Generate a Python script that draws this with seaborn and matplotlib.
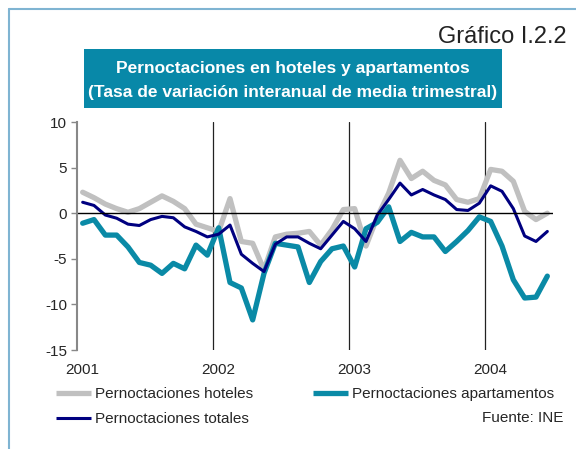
import numpy as np
import pandas as pd
import matplotlib.pyplot as plt
import seaborn as sns
from matplotlib.lines import Line2D

# data: monthly, Jan 2001 .. Jun 2004 (tasa de variacion interanual, %)
years = ['2001', '2002', '2003', '2004']
months = pd.date_range('2001-01-01', '2004-06-01', freq='MS')

hoteles = [2.3, 1.7, 1.0, 0.5, 0.1, 0.5, 1.2, 1.9, 1.3, 0.5, -1.2, -1.6,
           -2.0, 1.6, -3.1, -3.3, -6.2, -2.6, -2.3, -2.2, -2.0, -3.5, -1.8, 0.4,
           0.5, -3.6, -0.4, 2.2, 5.8, 3.8, 4.6, 3.6, 3.1, 1.5, 1.2, 1.6,
           4.8, 4.6, 3.5, 0.2, -0.7, 0.0]
apartamentos = [-1.1, -0.7, -2.4, -2.4, -3.7, -5.4, -5.7, -6.6, -5.5, -6.1, -3.5, -4.6,
                -1.6, -7.6, -8.2, -11.7, -6.6, -3.3, -3.5, -3.7, -7.6, -5.3, -3.9, -3.6,
                -5.9, -1.7, -1.0, 0.7, -3.1, -2.1, -2.6, -2.6, -4.2, -3.1, -1.9, -0.4,
                -0.9, -3.6, -7.3, -9.3, -9.2, -6.9]
totales = [1.2, 0.85, -0.2, -0.55, -1.2, -1.35, -0.7, -0.35, -0.5, -1.5, -2.0, -2.6,
           -2.3, -1.3, -4.5, -5.5, -6.4, -3.4, -2.6, -2.6, -3.3, -3.9, -2.4, -0.9,
           -1.7, -3.1, -0.2, 1.5, 3.3, 2.0, 2.6, 2.0, 1.5, 0.4, 0.3, 1.1,
           3.0, 2.4, 0.5, -2.5, -3.1, -2.0]

series = ['Pernoctaciones hoteles', 'Pernoctaciones apartamentos', 'Pernoctaciones totales']
colors = ['#c0c0c0', '#0a8aa6', '#000080']
widths = [3.8, 3.8, 2.2]

df = pd.DataFrame({'pos': np.arange(len(months)), 'fecha': months,
                   series[0]: hoteles, series[1]: apartamentos, series[2]: totales})
long = df.melt(id_vars=['pos', 'fecha'], var_name='serie', value_name='tasa')

sns.set_style('white')
plt.rcParams['font.family'] = ['Liberation Sans', 'DejaVu Sans']
plt.rcParams['axes.unicode_minus'] = False

fig = plt.figure(figsize=(5.76, 4.49), dpi=100)
ax = fig.add_axes([77/576, 1 - 350/449, 476/576, 228/449])

for name, c, w in zip(series, colors, widths):
    sns.lineplot(data=long[long['serie'] == name], x='pos', y='tasa',
                 color=c, linewidth=w, ax=ax, legend=False)

ax.set_xlim(-0.5, len(months) - 0.5)
ax.set_ylim(-15, 10)
ax.axhline(0, color='black', linewidth=1)
for b in [11.5, 23.5, 35.5]:
    ax.axvline(b, color='#222222', linewidth=0.9, zorder=0)

ax.set_yticks([-15, -10, -5, 0, 5, 10])
ax.set_xticks([0, 12, 24, 36])
ax.set_xticklabels(years)
ax.tick_params(axis='x', length=0, pad=9, labelsize=11)
ax.tick_params(axis='y', left=True, length=4, width=1, color='#888888', pad=3, labelsize=11)
ax.set_xlabel('')
ax.set_ylabel('')
for s in ['top', 'right', 'bottom']:
    ax.spines[s].set_visible(False)
ax.spines['left'].set_color('#888888')
ax.spines['left'].set_linewidth(1.5)

# legend
handles = [Line2D([], [], color=c, linewidth=w, solid_capstyle='butt')
           for c, w in zip(colors, widths)]
fig.legend([handles[0], handles[2], handles[1]], [series[0], series[2], series[1]],
           ncol=2, loc='upper left', bbox_to_anchor=(56/576, 1 - 387/449),
           frameon=False, fontsize=11, handlelength=2.3, handletextpad=0.25,
           columnspacing=3.9, labelspacing=0.75, borderaxespad=0, borderpad=0)
fig.text(563/576, 1 - 418/449, 'Fuente: INE', ha='right', va='center', fontsize=11)

# title
fig.text(567/576, 1 - 37/449, 'Gráfico I.2.2', ha='right', va='center', fontsize=17,
         color='#222222')
box = plt.Rectangle((84/576, 1 - 108/449), 418/576, 59/449, transform=fig.transFigure,
                    facecolor='#0888a8', edgecolor='none')
fig.add_artist(box)
fig.text(293/576, 1 - 69/449, 'Pernoctaciones en hoteles y apartamentos', ha='center',
         va='center', fontsize=12.5, fontweight='bold', color='white')
fig.text(293/576, 1 - 93/449, '(Tasa de variación interanual de media trimestral)', ha='center',
         va='center', fontsize=12.5, fontweight='bold', color='white')

# frame
fig.add_artist(Line2D([9/576, 1], [1 - 9/449, 1 - 9/449], color='#7fb4d2', linewidth=1.5))
fig.add_artist(Line2D([9/576, 9/576], [0, 1 - 9/449], color='#7fb4d2', linewidth=1.5))

fig.savefig('out.png', dpi=100)
